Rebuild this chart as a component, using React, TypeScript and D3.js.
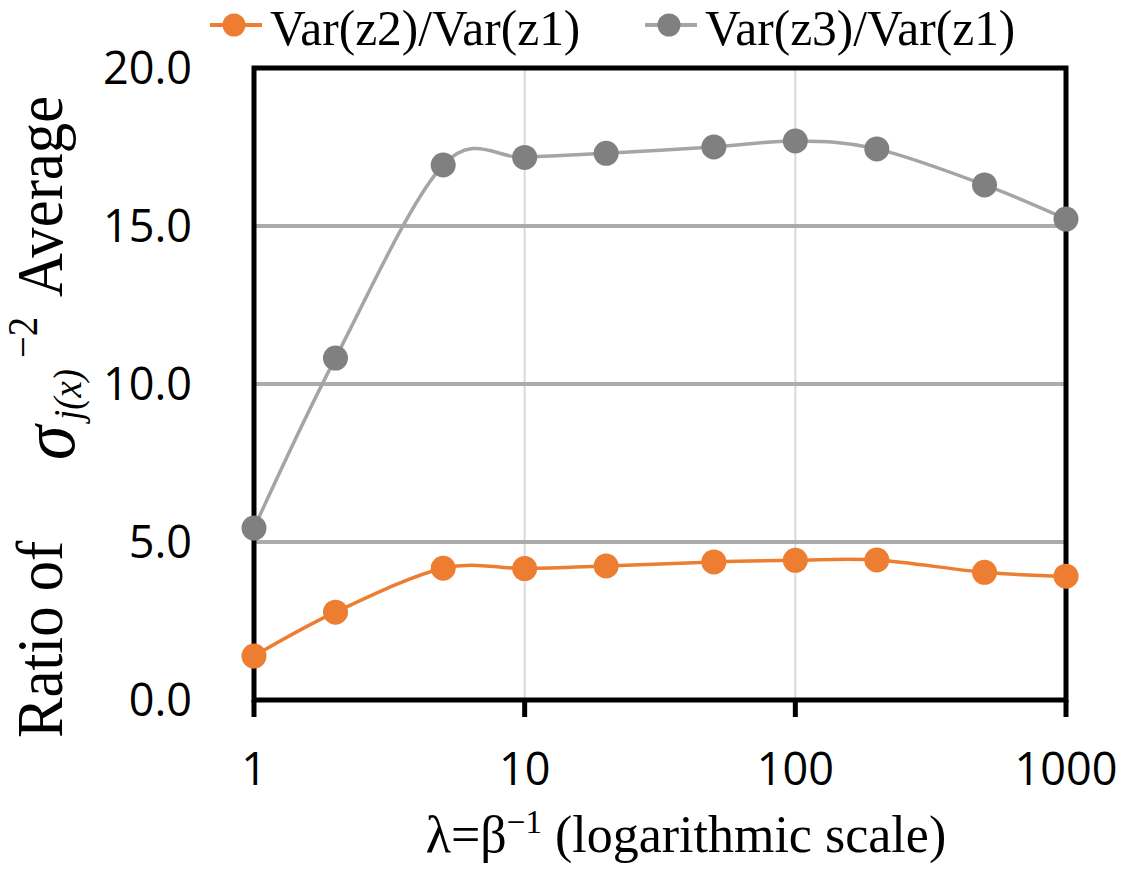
import React, { useEffect, useRef } from 'react';
import * as d3 from 'd3';

// lambda values (x axis, log scale)
const lambdas = [1, 2, 5, 10, 20, 50, 100, 200, 500, 1000];
// Var(z2)/Var(z1)
const ratioZ2 = [1.39, 2.78, 4.17, 4.16, 4.24, 4.37, 4.42, 4.43, 4.04, 3.92];
// Var(z3)/Var(z1)
const ratioZ3 = [5.44, 10.82, 16.93, 17.17, 17.3, 17.5, 17.69, 17.44, 16.3, 15.22];

const seriesNames = ['Var(z2)/Var(z1)', 'Var(z3)/Var(z1)'];
const xTicks = [1, 10, 100, 1000];
const yTicks = [0, 5, 10, 15, 20];

const ORANGE = '#ED7D31';
const GRAY_LINE = '#A5A5A5';
const GRAY_MARK = '#808080';
const SERIF = '"Liberation Serif", "Times New Roman", serif';

const App: React.FC = () => {
  const ref = useRef<SVGSVGElement | null>(null);

  useEffect(() => {
    const svg = d3.select(ref.current);
    svg.selectAll('*').remove();

    const x = d3.scaleLog().domain([1, 1000]).range([254, 1066]);
    const y = d3.scaleLinear().domain([0, 20]).range([700, 68]);

    const series = [
      { name: seriesNames[0], values: ratioZ2, line: ORANGE, mark: ORANGE },
      { name: seriesNames[1], values: ratioZ3, line: GRAY_LINE, mark: GRAY_MARK },
    ];

    // vertical gridlines (major decades)
    svg.append('g')
      .selectAll('line')
      .data(xTicks.slice(1, -1))
      .enter()
      .append('line')
      .attr('x1', d => x(d)).attr('x2', d => x(d))
      .attr('y1', y(20)).attr('y2', y(0))
      .attr('stroke', '#D9D9D9')
      .attr('stroke-width', 2);

    // horizontal gridlines
    svg.append('g')
      .selectAll('line')
      .data(yTicks.slice(1, -1))
      .enter()
      .append('line')
      .attr('x1', x(1)).attr('x2', x(1000))
      .attr('y1', d => y(d)).attr('y2', d => y(d))
      .attr('stroke', '#ABABAB')
      .attr('stroke-width', 4);

    // plot border
    svg.append('rect')
      .attr('x', x(1)).attr('y', y(20))
      .attr('width', x(1000) - x(1)).attr('height', y(0) - y(20))
      .attr('fill', 'none')
      .attr('stroke', '#000')
      .attr('stroke-width', 5);

    // x ticks (outward)
    svg.append('g')
      .selectAll('line')
      .data(xTicks)
      .enter()
      .append('line')
      .attr('x1', d => x(d)).attr('x2', d => x(d))
      .attr('y1', y(0)).attr('y2', y(0) + 17)
      .attr('stroke', '#000')
      .attr('stroke-width', 5);

    // x tick labels
    svg.append('g')
      .selectAll('text')
      .data(xTicks)
      .enter()
      .append('text')
      .attr('x', d => x(d))
      .attr('y', 785)
      .attr('text-anchor', 'middle')
      .attr('font-family', '"Open Sans", sans-serif')
      .attr('font-size', 45)
      .attr('fill', '#000')
      .text(d => String(d));

    // y tick labels
    svg.append('g')
      .selectAll('text')
      .data(yTicks)
      .enter()
      .append('text')
      .attr('x', 192)
      .attr('y', d => y(d) + 16)
      .attr('text-anchor', 'end')
      .attr('font-family', '"Open Sans", sans-serif')
      .attr('font-size', 45)
      .attr('fill', '#000')
      .text(d => d3.format('.1f')(d));

    // smoothed lines + markers
    const line = d3.line<number>()
      .x((_, i) => x(lambdas[i]))
      .y(d => y(d))
      .curve(d3.curveCardinal.tension(0));

    series.forEach(s => {
      svg.append('path')
        .attr('d', line(s.values))
        .attr('fill', 'none')
        .attr('stroke', s.line)
        .attr('stroke-width', 3.5);
    });
    series.forEach(s => {
      svg.append('g')
        .selectAll('circle')
        .data(s.values)
        .enter()
        .append('circle')
        .attr('cx', (_, i) => x(lambdas[i]))
        .attr('cy', d => y(d))
        .attr('r', 12.5)
        .attr('fill', s.mark);
    });

    // legend
    const legendX = [210, 645];
    series.forEach((s, i) => {
      const g = svg.append('g').attr('transform', `translate(${legendX[i]},25)`);
      g.append('line')
        .attr('x1', 0).attr('x2', 52)
        .attr('y1', 0).attr('y2', 0)
        .attr('stroke', s.line)
        .attr('stroke-width', 4);
      g.append('circle').attr('cx', 24).attr('cy', 0).attr('r', 11.5).attr('fill', s.mark);
      g.append('text')
        .attr('transform', 'translate(60,20) scale(0.97,1)')
        .attr('font-family', SERIF)
        .attr('font-size', 51)
        .attr('fill', '#000')
        .text(s.name);
    });

    // x axis title
    const xt = svg.append('text')
      .attr('x', 686)
      .attr('y', 852)
      .attr('text-anchor', 'middle')
      .attr('font-family', SERIF)
      .attr('font-size', 52)
      .attr('fill', '#000');
    xt.append('tspan').text('λ=β');
    xt.append('tspan').attr('dy', -19).attr('font-size', 33).text('−1');
    xt.append('tspan').attr('dy', 19).text(' (logarithmic scale)');

    // y axis title (rotated, slightly condensed)
    const sx = 0.92;
    const y0 = 738;
    const fx = (realY: number) => (y0 - realY) / sx;
    const yt = svg.append('text')
      .attr('transform', `translate(62,${y0}) rotate(-90) scale(${sx},1)`)
      .attr('font-family', SERIF)
      .attr('font-size', 66)
      .attr('fill', '#000');
    yt.append('tspan').attr('x', 0).attr('y', 0).text('Ratio of');
    yt.append('tspan').attr('x', fx(460)).attr('y', 12).attr('font-style', 'italic').attr('font-size', 76).text('σ');
    yt.append('tspan').attr('x', fx(420)).attr('y', 19).attr('font-style', 'italic').attr('font-size', 40).text('j(x)');
    yt.append('tspan').attr('x', fx(358)).attr('y', -25).attr('font-size', 42).text('−2');
    yt.append('tspan').attr('x', fx(297)).attr('y', 0).text('Average');
  }, []);

  return (
    <svg
      ref={ref}
      width={1136}
      height={873}
      style={{ position: 'absolute', left: 0, top: 0, background: '#fff' }}
    />
  );
};

export default App;
